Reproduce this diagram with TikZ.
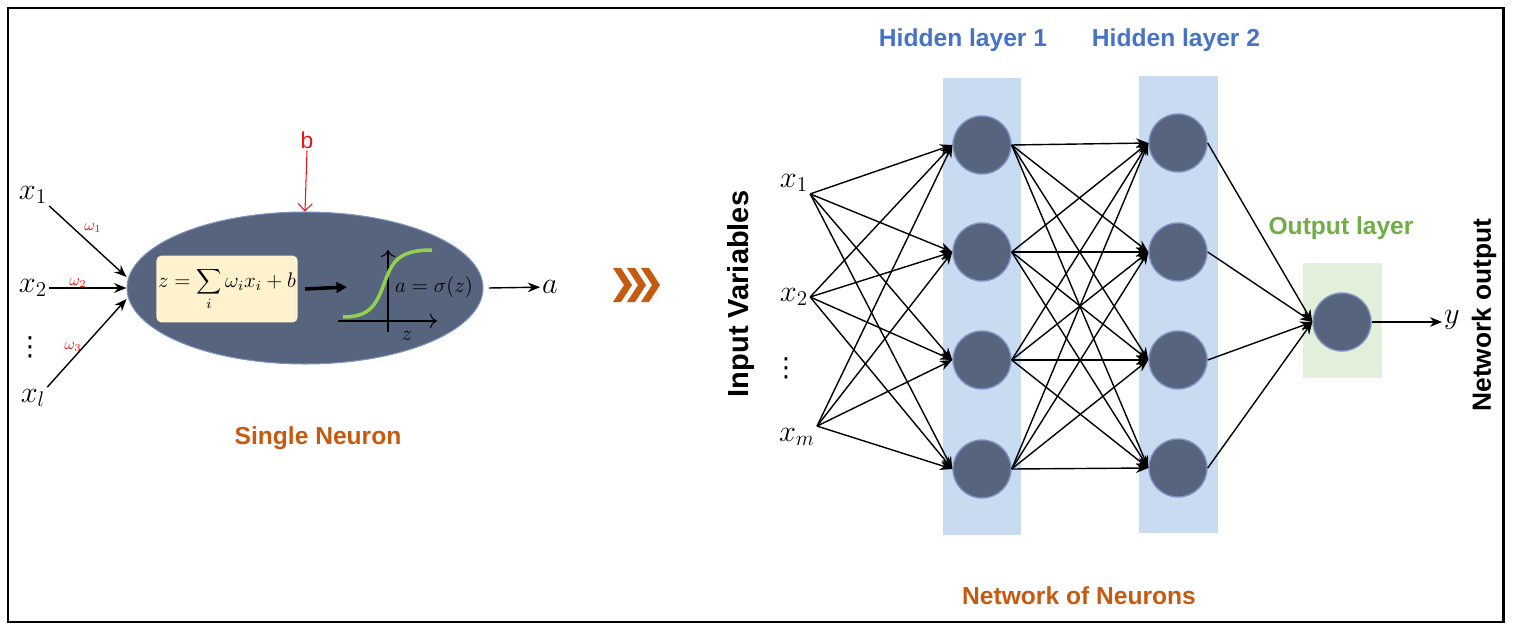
\documentclass[tikz,border=0pt]{standalone}
\usepackage{fontspec}
\setsansfont{Liberation Sans}
\newfontfamily\symfont{DejaVu Sans}
\usetikzlibrary{positioning}
\usetikzlibrary{shapes.geometric}
\usetikzlibrary{arrows.meta}

\definecolor{slate}{RGB}{86,100,125}
\definecolor{slateedge}{RGB}{125,145,195}
\definecolor{hidblue}{RGB}{200,219,240}
\definecolor{outbg}{RGB}{226,239,218}
\definecolor{sumbg}{RGB}{255,242,204}
\definecolor{orangetxt}{RGB}{197,90,17}
\definecolor{bluetxt}{RGB}{70,115,196}
\definecolor{greentxt}{RGB}{112,173,71}
\definecolor{sigmoid}{RGB}{146,208,80}
\definecolor{pen}{RGB}{230,20,20}

\tikzset{
	neuron/.style = {circle, fill=slate, draw=slateedge, line width=0.8pt, minimum size=1.16cm, inner sep=0},
	conn/.style = {-{Stealth[length=7pt,width=5.5pt]}, line width=0.8pt},
	var/.style = {font=\fontsize{17}{19}\selectfont, inner sep=1pt},
	vdot/.style = {font=\symfont\fontsize{15}{16}\selectfont, inner sep=0},
	title/.style = {font=\sffamily\bfseries\fontsize{14}{16}\selectfont},
	handw/.style = {text=pen, font=\fontsize{9}{10}\selectfont, inner sep=0}
}

\begin{document}
\begin{tikzpicture}[x=0.02cm, y=-0.02cm]
		\useasboundingbox (0,0) rectangle (1513,631);
		\draw[line width=1.7pt] (8,8) rectangle (1503,622);
		
		% single neuron
		\node[ellipse, fill=slate, draw=slateedge, line width=0.6pt, minimum width=7.12cm, minimum height=3.04cm] (cell) at (305,288) {};
		\node[fill=sumbg, rounded corners=3pt, minimum width=2.82cm, minimum height=1.34cm, inner sep=1pt, font=\fontsize{12}{14}\selectfont] (sum) at (227,289) {$z = \displaystyle\sum_i \omega_i x_i + b$};
		\draw[-{Triangle[length=6pt,width=6pt]}, line width=2pt] ([xshift=4pt]sum.east) -- (347,287);
		
		% activation
		\draw[-{To[length=4pt]}, line width=0.6pt] (338,321) -- (437,321);
		\draw[-{To[length=4pt]}, line width=0.6pt] (388,332) -- (388,250);
		\draw[sigmoid, line width=2pt] (343,317) .. controls (370,317) and (376,305) .. (384,284) .. controls (392,262) and (398,250) .. (432,250);
		\node[font=\fontsize{12}{14}\selectfont, inner sep=0] (act) at (434,287) {$a = \sigma(z)$};
		\node[font=\fontsize{13}{15}\selectfont, inner sep=0] (zlab) at (407,336) {$z$};
		
		\node[var] (outa) at (550,287) {$a$};
		\draw[conn] ([xshift=3pt]cell.east) -- (outa);
		
		% inputs
		\node[var] (x1) at (33,195) {$x_1$};
		\node[var] (x2) at (33,288) {$x_2$};
		\node[vdot] (dots) at (30,347) {⋮};
		\node[var] (xl) at (33,398) {$x_l$};
		\draw[conn] (x1.south east) -- ([yshift=0.22cm]cell.west);
		\draw[conn] (x2.east) -- (cell.west);
		\draw[conn] (xl.north east) -- ([yshift=-0.22cm]cell.west);
		
		% pen notes
		\node[handw] (w1) at (93,228) {$\omega_1$};
		\node[handw] (w2) at (78,283) {$\omega_2$};
		\node[handw] (w3) at (73,347) {$\omega_3$};
		\node[text=pen, font=\sffamily\fontsize{13}{15}\selectfont, inner sep=1pt] (bias) at (307,140) {b};
		\draw[pen, -{Straight Barb[length=4pt]}, line width=0.6pt] (bias.south) -- (cell.north);
		
		\node[title, text=orangetxt] (single) at (318,438) {Single Neuron};
		
		% chevrons
		\foreach \x in {613,627,641}
			\fill[orangetxt] (\x,268) -- (\x+8,268) -- (\x+19,285) -- (\x+8,302) -- (\x,302) -- (\x+11,285) -- cycle;
		
		% layers
		\fill[hidblue] (943,78) rectangle (1021,535);
		\fill[hidblue] (1139,76) rectangle (1218,533);
		\fill[outbg] (1303,263) rectangle (1382,378);
		
		\foreach \y [count=\i] in {145,252,360,469}
			\node[neuron] (h1-\i) at (982,\y) {};
		\foreach \y [count=\i] in {143,252,360,468}
			\node[neuron] (h2-\i) at (1178,\y) {};
		\node[neuron] (out) at (1342,322) {};
		
		% network inputs
		\node[var] (in1) at (794,183) {$x_1$};
		\node[var] (in2) at (794,297) {$x_2$};
		\node[vdot] (indots) at (786,368) {⋮};
		\node[var] (in3) at (797,437) {$x_m$};
		
		\foreach \s in {in1.south east, in2.east, in3.north east} \foreach \j in {1,...,4}
			\draw[conn] (\s) -- (h1-\j.west);
		\foreach \i in {1,...,4} \foreach \j in {1,...,4}
			\draw[conn] (h1-\i.east) -- (h2-\j.west);
		\foreach \i in {1,...,4}
			\draw[conn] (h2-\i.east) -- (out.west);
		
		\node[var] (y) at (1452,320) {$y$};
		\draw[conn] (out.east) -- (out.east -| y.west);
		
		% labels
		\node[title, text=bluetxt] (hid1) at (963,40) {Hidden layer 1};
		\node[title, text=bluetxt] (hid2) at (1176,40) {Hidden layer 2};
		\node[title, text=greentxt] (outl) at (1341,228) {Output layer};
		\node[title, text=orangetxt] (net) at (1079,596) {Network of Neurons};
		\node[font=\sffamily\bfseries\fontsize{16.5}{18}\selectfont, rotate=90] (invar) at (741,294) {Input Variables};
		\node[font=\sffamily\bfseries\fontsize{15}{17}\selectfont, rotate=90] (netout) at (1484,315) {Network output};
	\end{tikzpicture}
\end{document}
